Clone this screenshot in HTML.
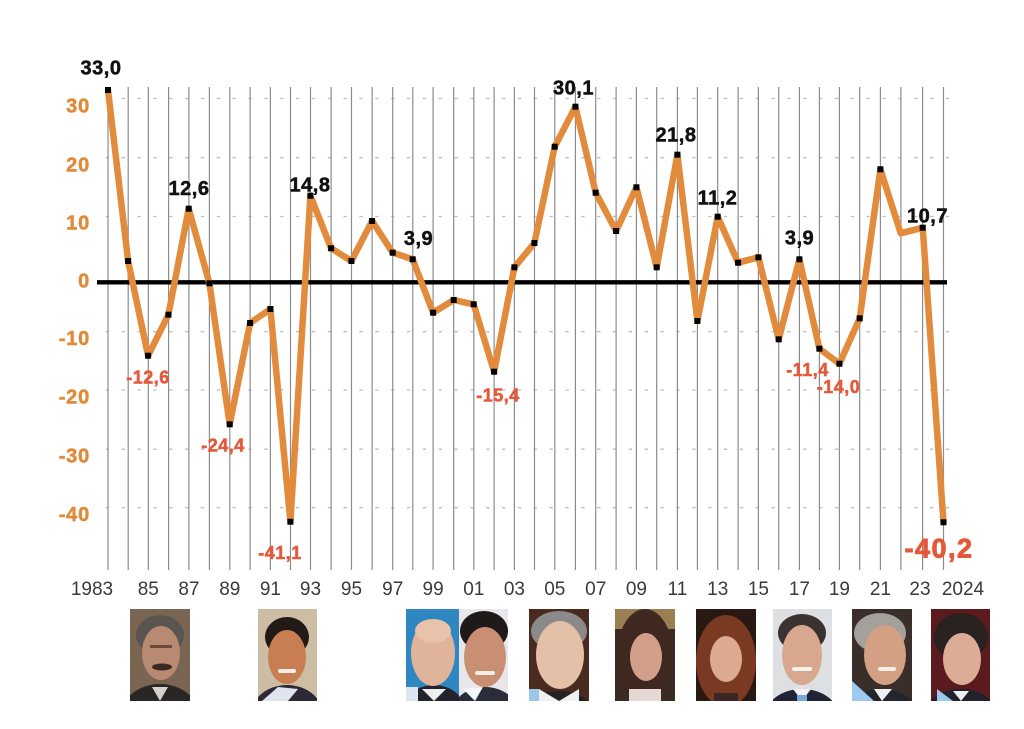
<!DOCTYPE html>
<html><head><meta charset="utf-8"><style>
html,body{margin:0;padding:0;background:#fff;}
svg{display:block;}
text{font-family:"Liberation Sans",Arial,sans-serif;}
.yl{font-size:20px;font-weight:bold;fill:#e08a3a;stroke:#e08a3a;stroke-width:0.5px;text-anchor:end;letter-spacing:0.8px;}
.xl{font-size:19px;fill:#3a3a3a;text-anchor:middle;}
.bl{font-size:20px;font-weight:bold;fill:#111;stroke:#111;stroke-width:0.5px;text-anchor:middle;letter-spacing:0.5px;}
.rl{font-size:18px;font-weight:bold;fill:#e5593a;stroke:#e5593a;stroke-width:0.5px;text-anchor:middle;letter-spacing:0.5px;}
.big{font-size:27px;font-weight:bold;fill:#e5593a;stroke:#e5593a;stroke-width:0.9px;text-anchor:middle;letter-spacing:1.5px;}
</style></head><body>
<svg width="1024" height="729" viewBox="0 0 1024 729" xmlns="http://www.w3.org/2000/svg">
<rect width="1024" height="729" fill="#fff"/>
<g stroke="#bdbdbd" stroke-width="1.3" stroke-dasharray="3.3 12.55">
<line x1="105.8" y1="98.5" x2="955" y2="98.5"/>
<line x1="105.8" y1="157.7" x2="955" y2="157.7"/>
<line x1="105.8" y1="216.5" x2="955" y2="216.5"/>
<line x1="105.8" y1="331.7" x2="955" y2="331.7"/>
<line x1="105.8" y1="390" x2="955" y2="390"/>
<line x1="105.8" y1="449.2" x2="955" y2="449.2"/>
<line x1="105.8" y1="507.7" x2="955" y2="507.7"/>
</g>
<g stroke="#8c8c8c" stroke-width="1.2">
<line x1="108" y1="87" x2="108" y2="570"/>
<line x1="128.2" y1="87" x2="128.2" y2="570"/>
<line x1="148.3" y1="87" x2="148.3" y2="570"/>
<line x1="168.6" y1="87" x2="168.6" y2="570"/>
<line x1="188.9" y1="87" x2="188.9" y2="570"/>
<line x1="209.4" y1="87" x2="209.4" y2="570"/>
<line x1="229.8" y1="87" x2="229.8" y2="570"/>
<line x1="250.1" y1="87" x2="250.1" y2="570"/>
<line x1="270.4" y1="87" x2="270.4" y2="570"/>
<line x1="290.5" y1="87" x2="290.5" y2="570"/>
<line x1="310.5" y1="87" x2="310.5" y2="570"/>
<line x1="331.1" y1="87" x2="331.1" y2="570"/>
<line x1="351.5" y1="87" x2="351.5" y2="570"/>
<line x1="372.1" y1="87" x2="372.1" y2="570"/>
<line x1="392.7" y1="87" x2="392.7" y2="570"/>
<line x1="412.8" y1="87" x2="412.8" y2="570"/>
<line x1="433.1" y1="87" x2="433.1" y2="570"/>
<line x1="453.7" y1="87" x2="453.7" y2="570"/>
<line x1="473.8" y1="87" x2="473.8" y2="570"/>
<line x1="494.1" y1="87" x2="494.1" y2="570"/>
<line x1="514.4" y1="87" x2="514.4" y2="570"/>
<line x1="534.5" y1="87" x2="534.5" y2="570"/>
<line x1="554.8" y1="87" x2="554.8" y2="570"/>
<line x1="575.4" y1="87" x2="575.4" y2="570"/>
<line x1="595.7" y1="87" x2="595.7" y2="570"/>
<line x1="616.1" y1="87" x2="616.1" y2="570"/>
<line x1="636.4" y1="87" x2="636.4" y2="570"/>
<line x1="656.7" y1="87" x2="656.7" y2="570"/>
<line x1="677.4" y1="87" x2="677.4" y2="570"/>
<line x1="697.4" y1="87" x2="697.4" y2="570"/>
<line x1="717.7" y1="87" x2="717.7" y2="570"/>
<line x1="738.1" y1="87" x2="738.1" y2="570"/>
<line x1="758.4" y1="87" x2="758.4" y2="570"/>
<line x1="778.7" y1="87" x2="778.7" y2="570"/>
<line x1="799.4" y1="87" x2="799.4" y2="570"/>
<line x1="819.4" y1="87" x2="819.4" y2="570"/>
<line x1="839.4" y1="87" x2="839.4" y2="570"/>
<line x1="859.7" y1="87" x2="859.7" y2="570"/>
<line x1="880.4" y1="87" x2="880.4" y2="570"/>
<line x1="900.9" y1="87" x2="900.9" y2="570"/>
<line x1="922.6" y1="87" x2="922.6" y2="570"/>
<line x1="943.5" y1="87" x2="943.5" y2="570"/>
</g>
<line x1="97" y1="282.3" x2="947" y2="282.3" stroke="#000" stroke-width="4.3"/>
<text class="yl" x="90" y="112.5">30</text>
<text class="yl" x="90" y="171.5">20</text>
<text class="yl" x="90" y="229.5">10</text>
<text class="yl" x="90" y="287.5">0</text>
<text class="yl" x="90" y="345">-10</text>
<text class="yl" x="90" y="403.5">-20</text>
<text class="yl" x="90" y="462.5">-30</text>
<text class="yl" x="90" y="521">-40</text>
<polyline fill="none" stroke="#e38b3c" stroke-width="6.5" stroke-linejoin="round" points="108,90 128.1,261 148.1,355.7 168.4,314.7 188.7,208.7 209.4,283.3 229.7,424.3 250.1,323 270.4,309 290.4,521.7 310.4,195.7 331.1,248.3 351.4,261 372.1,221 392.7,252.7 412.7,259.3 433.1,312.7 453.7,300 473.7,304.3 494.1,371.7 514.4,267.3 534.4,243 554.7,146.7 575.4,106.7 595.7,192.7 616.1,231 636.4,187.3 656.7,267.3 677.4,154.7 697.4,321 717.7,216.7 738.1,262.7 758.4,257.3 778.7,339.3 799.4,259.3 819.4,348.7 839.4,363.7 859.7,318.3 880.4,169.3 900.7,233.3 922.7,227.7 943.5,522.3"/>
<g fill="#000">
<rect x="105" y="87" width="6" height="6"/>
<rect x="125.1" y="258" width="6" height="6"/>
<rect x="145.1" y="352.7" width="6" height="6"/>
<rect x="165.4" y="311.7" width="6" height="6"/>
<rect x="185.7" y="205.7" width="6" height="6"/>
<rect x="206.4" y="280.3" width="6" height="6"/>
<rect x="226.7" y="421.3" width="6" height="6"/>
<rect x="247.1" y="320" width="6" height="6"/>
<rect x="267.4" y="306" width="6" height="6"/>
<rect x="287.4" y="518.7" width="6" height="6"/>
<rect x="307.4" y="192.7" width="6" height="6"/>
<rect x="328.1" y="245.3" width="6" height="6"/>
<rect x="348.4" y="258" width="6" height="6"/>
<rect x="369.1" y="218" width="6" height="6"/>
<rect x="389.7" y="249.7" width="6" height="6"/>
<rect x="409.7" y="256.3" width="6" height="6"/>
<rect x="430.1" y="309.7" width="6" height="6"/>
<rect x="450.7" y="297" width="6" height="6"/>
<rect x="470.7" y="301.3" width="6" height="6"/>
<rect x="491.1" y="368.7" width="6" height="6"/>
<rect x="511.4" y="264.3" width="6" height="6"/>
<rect x="531.4" y="240" width="6" height="6"/>
<rect x="551.7" y="143.7" width="6" height="6"/>
<rect x="572.4" y="103.7" width="6" height="6"/>
<rect x="592.7" y="189.7" width="6" height="6"/>
<rect x="613.1" y="228" width="6" height="6"/>
<rect x="633.4" y="184.3" width="6" height="6"/>
<rect x="653.7" y="264.3" width="6" height="6"/>
<rect x="674.4" y="151.7" width="6" height="6"/>
<rect x="694.4" y="318" width="6" height="6"/>
<rect x="714.7" y="213.7" width="6" height="6"/>
<rect x="735.1" y="259.7" width="6" height="6"/>
<rect x="755.4" y="254.3" width="6" height="6"/>
<rect x="775.7" y="336.3" width="6" height="6"/>
<rect x="796.4" y="256.3" width="6" height="6"/>
<rect x="816.4" y="345.7" width="6" height="6"/>
<rect x="836.4" y="360.7" width="6" height="6"/>
<rect x="856.7" y="315.3" width="6" height="6"/>
<rect x="877.4" y="166.3" width="6" height="6"/>
<rect x="919.7" y="224.7" width="6" height="6"/>
<rect x="940.5" y="519.3" width="6" height="6"/>
</g>
<text class="bl" x="101" y="74.5">33,0</text>
<text class="bl" x="189" y="195">12,6</text>
<text class="bl" x="310" y="191.3">14,8</text>
<text class="bl" x="418.5" y="245">3,9</text>
<text class="bl" x="573.5" y="94.5">30,1</text>
<text class="bl" x="676" y="141.3">21,8</text>
<text class="bl" x="717.5" y="204.5">11,2</text>
<text class="bl" x="799.5" y="244.5">3,9</text>
<text class="bl" x="927.5" y="222.3">10,7</text>
<text class="rl" x="148" y="383.5">-12,6</text>
<text class="rl" x="223" y="451.5">-24,4</text>
<text class="rl" x="280" y="559">-41,1</text>
<text class="rl" x="498" y="401.5">-15,4</text>
<text class="rl" x="807.5" y="375.8">-11,4</text>
<text class="rl" x="838.5" y="393.2">-14,0</text>
<text class="big" x="939" y="557.5">-40,2</text>
<text class="xl" x="92" y="595">1983</text>
<text class="xl" x="148.3" y="595">85</text>
<text class="xl" x="188.9" y="595">87</text>
<text class="xl" x="229.8" y="595">89</text>
<text class="xl" x="270.4" y="595">91</text>
<text class="xl" x="310.5" y="595">93</text>
<text class="xl" x="351.5" y="595">95</text>
<text class="xl" x="392.7" y="595">97</text>
<text class="xl" x="433.1" y="595">99</text>
<text class="xl" x="473.8" y="595">01</text>
<text class="xl" x="514.4" y="595">03</text>
<text class="xl" x="554.8" y="595">05</text>
<text class="xl" x="595.7" y="595">07</text>
<text class="xl" x="636.4" y="595">09</text>
<text class="xl" x="677.4" y="595">11</text>
<text class="xl" x="717.7" y="595">13</text>
<text class="xl" x="758.4" y="595">15</text>
<text class="xl" x="799.4" y="595">17</text>
<text class="xl" x="839.4" y="595">19</text>
<text class="xl" x="880.4" y="595">21</text>
<text class="xl" x="920" y="595">23</text>
<text class="xl" x="963" y="595">2024</text>
<svg x="130" y="609" width="60" height="92" viewBox="0 0 60 92">
<rect width="60" height="92" fill="#7a6452"/>
<ellipse cx="30" cy="105" rx="38" ry="30" fill="#2a2626"/>
<path d="M22 78 L30 92 L38 78 Z" fill="#d8d0cc"/>
<ellipse cx="30" cy="26" rx="24" ry="20" fill="#5a5550"/>
<ellipse cx="31" cy="44" rx="19" ry="27" fill="#b98a72"/>
<ellipse cx="32" cy="58" rx="10" ry="3.5" fill="#3a2a22"/>
<rect x="20" y="36" width="22" height="3" fill="#6a4a3a"/>
</svg>
<svg x="258" y="609" width="59" height="92" viewBox="0 0 59 92">
<rect width="59" height="92" fill="#cdbda5"/>
<ellipse cx="29" cy="106" rx="36" ry="30" fill="#2d2a35"/>
<path d="M4 92 L20 78 L40 80 L30 92 Z" fill="#dfe4ee"/>
<ellipse cx="29" cy="28" rx="22" ry="20" fill="#221a16"/>
<ellipse cx="29" cy="48" rx="19" ry="27" fill="#c97d52"/>
<rect x="20" y="60" width="18" height="4" rx="2" fill="#f2efe8"/>
</svg>
<svg x="406" y="609" width="54" height="92" viewBox="0 0 54 92">
<rect width="54" height="92" fill="#2f87c2"/>
<ellipse cx="28" cy="108" rx="34" ry="32" fill="#22232c"/>
<path d="M16 80 L28 92 L40 80 Z" fill="#eee"/>
<rect x="0" y="78" width="12" height="14" fill="#dce6f0"/>
<ellipse cx="27" cy="44" rx="22" ry="33" fill="#e0b49a"/>
<ellipse cx="27" cy="22" rx="18" ry="12" fill="#e8c2aa"/>
</svg>
<svg x="459" y="609" width="49" height="92" viewBox="0 0 49 92">
<rect width="49" height="92" fill="#e8e6ea"/>
<ellipse cx="26" cy="106" rx="34" ry="28" fill="#2a2c3a"/>
<path d="M4 80 L16 92 L24 78 Z" fill="#f4f6fa"/>
<ellipse cx="25" cy="22" rx="24" ry="20" fill="#1e1a1a"/>
<ellipse cx="26" cy="48" rx="21" ry="30" fill="#c98f72"/>
<rect x="16" y="62" width="20" height="4" rx="2" fill="#f4eee8"/>
</svg>
<svg x="529" y="609" width="60" height="92" viewBox="0 0 60 92">
<rect width="60" height="92" fill="#4a2a1e"/>
<ellipse cx="30" cy="106" rx="36" ry="24" fill="#222"/>
<path d="M10 80 L30 92 L50 80 L50 92 L10 92 Z" fill="#eef0f4"/>
<rect x="0" y="80" width="10" height="12" fill="#9cc6e8"/>
<ellipse cx="30" cy="22" rx="28" ry="20" fill="#8a8a88"/>
<ellipse cx="31" cy="46" rx="24" ry="34" fill="#e4c0a8"/>
</svg>
<svg x="615" y="609" width="60" height="92" viewBox="0 0 60 92">
<rect width="60" height="92" fill="#9a8050"/>
<rect x="0" y="20" width="60" height="72" fill="#3a2a22"/>
<ellipse cx="30" cy="46" rx="28" ry="46" fill="#3e2820"/>
<ellipse cx="31" cy="48" rx="16" ry="24" fill="#d2a08a"/>
<path d="M14 80 L46 80 L46 92 L14 92 Z" fill="#e6d8d4"/>
</svg>
<svg x="696" y="609" width="60" height="92" viewBox="0 0 60 92">
<rect width="60" height="92" fill="#2a1812"/>
<ellipse cx="30" cy="52" rx="30" ry="46" fill="#7a3a22"/>
<ellipse cx="30" cy="50" rx="16" ry="23" fill="#dcaa90"/>
<path d="M18 84 L42 84 L42 92 L18 92 Z" fill="#3a2622"/>
</svg>
<svg x="773" y="609" width="59" height="92" viewBox="0 0 59 92">
<rect width="59" height="92" fill="#dedfe2"/>
<ellipse cx="29" cy="106" rx="36" ry="26" fill="#1e2436"/>
<path d="M20 80 L29 92 L38 80 Z" fill="#f2f2f4"/>
<rect x="24" y="86" width="10" height="6" fill="#7aa6d8"/>
<ellipse cx="29" cy="24" rx="24" ry="19" fill="#3a3230"/>
<ellipse cx="29" cy="46" rx="20" ry="30" fill="#d8a88e"/>
<rect x="19" y="58" width="20" height="4" rx="2" fill="#f6f2ee"/>
</svg>
<svg x="852" y="609" width="60" height="92" viewBox="0 0 60 92">
<rect width="60" height="92" fill="#3a2e2a"/>
<ellipse cx="30" cy="106" rx="36" ry="26" fill="#25262c"/>
<path d="M0 72 L22 92 L0 92 Z" fill="#9ccaf0"/>
<path d="M22 80 L30 92 L40 80 Z" fill="#f0f0f4"/>
<ellipse cx="28" cy="24" rx="26" ry="20" fill="#a4a09c"/>
<ellipse cx="33" cy="46" rx="21" ry="30" fill="#d4a084"/>
<rect x="26" y="58" width="18" height="4" rx="2" fill="#f4eee8"/>
</svg>
<svg x="931" y="609" width="59" height="92" viewBox="0 0 59 92">
<rect width="59" height="92" fill="#5a1a1e"/>
<ellipse cx="30" cy="106" rx="36" ry="26" fill="#20222c"/>
<path d="M6 80 L22 92 L6 92 Z" fill="#9cc8ec"/>
<path d="M22 82 L30 92 L38 82 Z" fill="#eef0f4"/>
<ellipse cx="30" cy="28" rx="27" ry="24" fill="#2a2220"/>
<ellipse cx="31" cy="50" rx="19" ry="26" fill="#dcac96"/>
</svg>
</svg>
</body></html>
